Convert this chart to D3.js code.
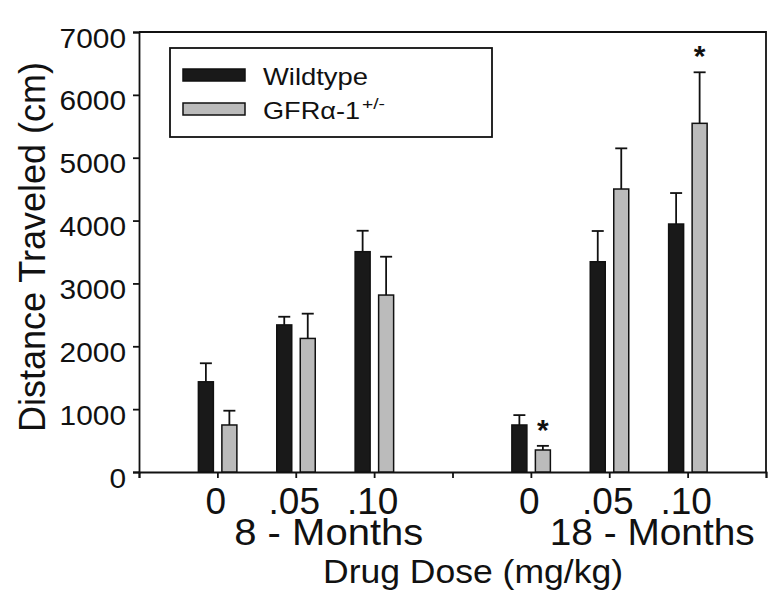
<!DOCTYPE html>
<html><head><meta charset="utf-8">
<script src="https://cdn.jsdelivr.net/npm/d3@7"></script>
<style>body{margin:0;background:#fff}svg{display:block}text{font-family:"Liberation Sans",Arial,sans-serif;fill:#111}</style>
</head><body>
<script>
const doses = ["0", ".05", ".10", "0", ".05", ".10"];
const slots = [1, 2, 3, 5, 6, 7];
const ages = ["8 - Months", "18 - Months"];
const series = ["Wildtype", "GFRα-1"];
const wildtype = [1435, 2340, 3505, 748, 3345, 3945];
const wildtypeErr = [1730, 2470, 3838, 905, 3834, 4438];
const hetero = [748, 2125, 2815, 350, 4502, 5547];
const heteroErr = [975, 2519, 3425, 416, 5149, 6359];
const starred = [false, false, false, true, false, true];
const yTicks = [0, 1000, 2000, 3000, 4000, 5000, 6000, 7000];

const W = 777, H = 600;
const svg = d3.select("body").append("svg").attr("width", W).attr("height", H);
const x = d3.scaleLinear().domain([0, 8]).range([139, 766]);
const y = d3.scaleLinear().domain([0, 7000]).range([472, 32]);
const colors = ["#191919", "#bbbbbb"];
const bw = 15;
const offs = [-19, 4.5];

// frame
svg.append("path").attr("d", `M${x(0)},${y(7000)}H${x(8)}V${y(0)}`)
  .attr("fill", "none").attr("stroke", "#111").attr("stroke-width", 1.8);

// y axis
const ya = svg.append("g").attr("transform", `translate(${x(0)},0)`)
  .call(d3.axisLeft(y).tickValues(yTicks).tickSize(6).tickPadding(7).tickFormat(d3.format("d")));
ya.select(".domain").attr("stroke", "#111").attr("stroke-width", 1.8);
ya.selectAll(".tick line").attr("stroke", "#111").attr("stroke-width", 1.8);
ya.selectAll(".tick text").attr("font-size", 28).attr("dy", 0).attr("y", 15)
  .attr("textLength", d => String(d).length * 16.6).attr("lengthAdjust", "spacingAndGlyphs")
  .style("font-family", '"Liberation Sans",Arial,sans-serif').attr("fill", "#111");

// x axis
const xa = svg.append("g").attr("transform", `translate(0,${y(0)})`)
  .call(d3.axisBottom(x).tickValues(d3.range(0, 9)).tickSize(6).tickFormat(""));
xa.select(".domain").attr("stroke", "#111").attr("stroke-width", 1.8);
xa.selectAll(".tick line").attr("stroke", "#111").attr("stroke-width", 1.8);

// dose labels
svg.selectAll(".dose").data(doses).join("text").attr("class", "dose")
  .attr("x", (d, i) => x(slots[i]) - 1.5).attr("y", 514)
  .attr("text-anchor", "middle").attr("font-size", 37).text(d => d);
// age labels
const ageLen = [189, 205];
svg.selectAll(".age").data(ages).join("text").attr("class", "age")
  .attr("x", (d, i) => x(slots[i * 3 + 1]) + (i === 0 ? 33 : 43)).attr("y", 545)
  .attr("text-anchor", "middle").attr("font-size", 37)
  .attr("textLength", (d, i) => ageLen[i]).attr("lengthAdjust", "spacingAndGlyphs").text(d => d);
svg.append("text").attr("x", 473).attr("y", 583).attr("text-anchor", "middle")
  .attr("font-size", 34).attr("textLength", 300).attr("lengthAdjust", "spacingAndGlyphs")
  .text("Drug Dose (mg/kg)");
svg.append("text").attr("transform", "translate(45,247) rotate(-90)")
  .attr("text-anchor", "middle").attr("font-size", 36)
  .attr("textLength", 370).attr("lengthAdjust", "spacingAndGlyphs").text("Distance Traveled (cm)");

// bars
const sets = [[wildtype, wildtypeErr], [hetero, heteroErr]];
sets.forEach(([vals, errs], s) => {
  const g = svg.append("g");
  g.selectAll("line.err").data(vals).join("line").attr("class", "err")
    .attr("x1", (d, i) => x(slots[i]) + offs[s] + bw / 2).attr("x2", (d, i) => x(slots[i]) + offs[s] + bw / 2)
    .attr("y1", d => y(d)).attr("y2", (d, i) => y(errs[i])).attr("stroke", "#111").attr("stroke-width", 1.8);
  g.selectAll("line.cap").data(errs).join("line").attr("class", "cap")
    .attr("x1", (d, i) => x(slots[i]) + offs[s] + 1.5).attr("x2", (d, i) => x(slots[i]) + offs[s] + bw - 1.5)
    .attr("y1", d => y(d)).attr("y2", d => y(d)).attr("stroke", "#111").attr("stroke-width", 1.8);
  g.selectAll("rect").data(vals).join("rect")
    .attr("x", (d, i) => x(slots[i]) + offs[s]).attr("width", bw)
    .attr("y", d => y(d)).attr("height", d => y(0) - y(d))
    .attr("fill", colors[s]).attr("stroke", "#111").attr("stroke-width", 1.5);
});

// asterisks
const starIdx = slots.map((s, i) => i).filter(i => starred[i]);
svg.selectAll(".star").data(starIdx).join("text").attr("class", "star")
  .attr("x", i => x(slots[i]) + offs[1] + bw / 2).attr("y", i => y(heteroErr[i]) - 6)
  .attr("text-anchor", "middle").attr("font-size", 30).attr("font-weight", "bold").text("*");

// legend
const lg = svg.append("g");
lg.append("rect").attr("x", 170).attr("y", 48).attr("width", 322).attr("height", 89)
  .attr("fill", "#fff").attr("stroke", "#111").attr("stroke-width", 1.8);
const legLen = [105, 97];
series.forEach((s, i) => {
  lg.append("rect").attr("x", 183).attr("y", 69 + i * 34).attr("width", 62).attr("height", 12)
    .attr("fill", colors[i]).attr("stroke", "#111").attr("stroke-width", 1.5);
  lg.append("text").attr("x", 263).attr("y", 85 + i * 34).attr("font-size", 24)
    .attr("textLength", legLen[i]).attr("lengthAdjust", "spacingAndGlyphs").text(s);
  if (i === 1) lg.append("text").attr("x", 362).attr("y", 109).attr("font-size", 15)
    .attr("textLength", 23).attr("lengthAdjust", "spacingAndGlyphs").text("+/-");
});
</script>
</body></html>
